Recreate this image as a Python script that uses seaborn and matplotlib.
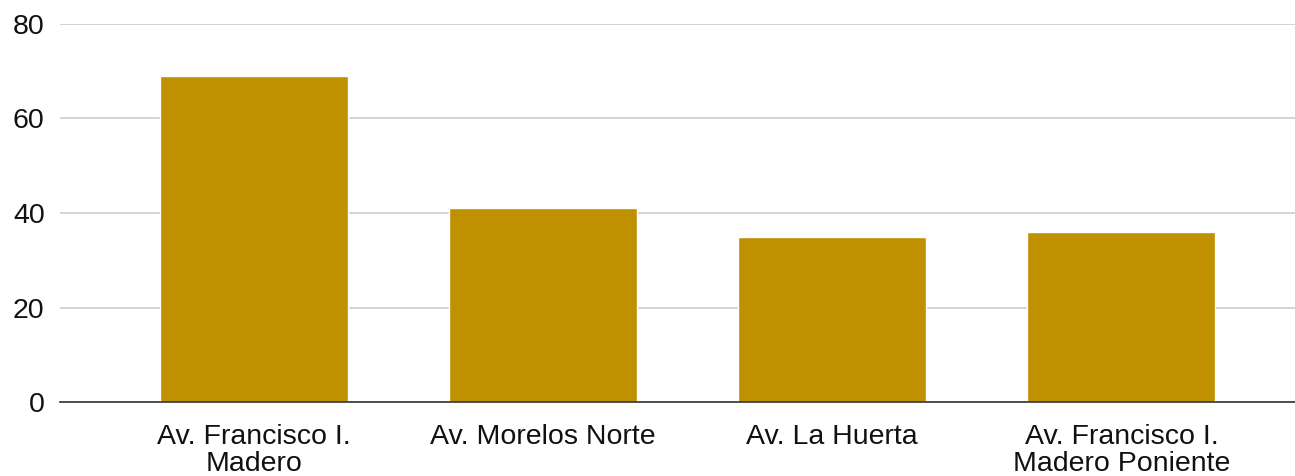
import matplotlib
matplotlib.use("Agg")
import matplotlib.pyplot as plt
import seaborn as sns
import pandas as pd

# ── Data ─────────────────────────────────────────────────────────────────────
calles = ["Av. Francisco I.\nMadero", "Av. Morelos Norte", "Av. La Huerta",
          "Av. Francisco I.\nMadero Poniente"]
valores = [69, 41, 35, 36]
yticks = [0, 20, 40, 60, 80]

df = pd.DataFrame({"calle": calles, "valor": valores})

# ── Plot ─────────────────────────────────────────────────────────────────────
sns.set_style("white")
plt.rcParams['font.family'] = ['Liberation Sans', 'DejaVu Sans']

fig = plt.figure(figsize=(12.95, 4.76), dpi=100)
ax = fig.add_axes([0.0463, 0.155, 0.9537, 0.795])

sns.barplot(data=df, x="calle", y="valor", color="#bf9000", width=0.65,
            saturation=1, ax=ax)

ax.set_ylim(0, 80)
ax.set_xlim(-0.67, 3.6)
ax.set_yticks(yticks)
ax.yaxis.grid(True, color="#cccccc", linewidth=1.2)
ax.set_axisbelow(True)
for s in ["top", "right", "left"]:
    ax.spines[s].set_visible(False)
ax.spines["bottom"].set_color("#333333")
ax.spines["bottom"].set_linewidth(1.2)
ax.tick_params(axis="both", length=0, labelsize=20.5, labelcolor="#111111")
ax.tick_params(axis="y", pad=11)
ax.tick_params(axis="x", pad=16)
for lbl in ax.get_xticklabels():
    lbl.set_linespacing(1.05)
ax.set_xlabel("")
ax.set_ylabel("")

plt.savefig("out.png", dpi=100)
plt.close()
